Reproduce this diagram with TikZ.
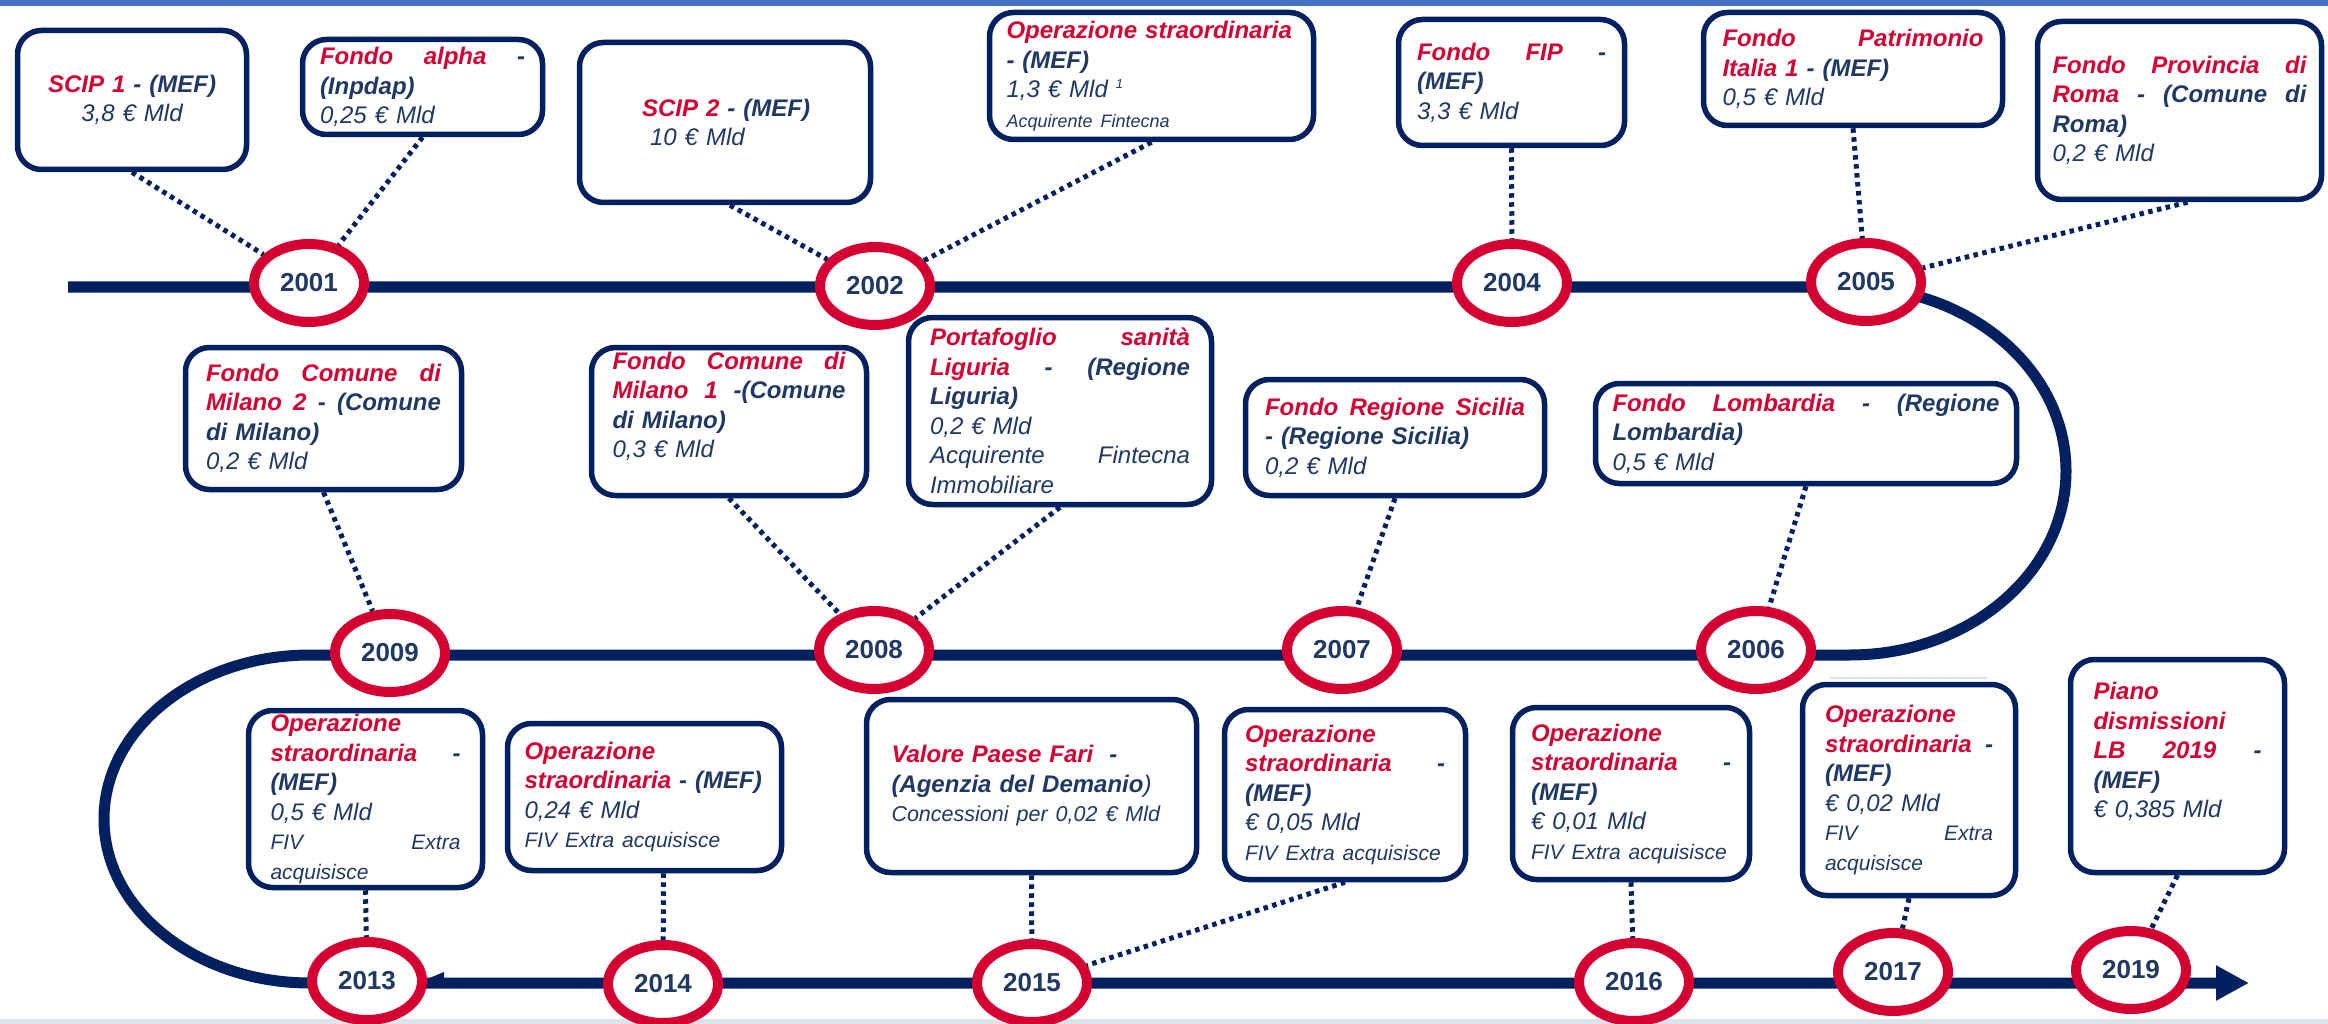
\documentclass[tikz,border=0pt]{standalone}
\usepackage{fontspec}
\setmainfont{Liberation Sans}
\usetikzlibrary{shapes.geometric,arrows.meta}
\definecolor{tred}{RGB}{213,0,50}
\definecolor{tnavy}{RGB}{0,32,96}
\definecolor{tblue}{RGB}{31,56,100}
\definecolor{tbar}{RGB}{68,114,196}
\definecolor{tgray}{RGB}{222,227,235}
\newcommand\redt[1]{\textcolor{tred}{\bfseries\itshape #1}}
\newcommand\bluet[1]{\textcolor{tblue}{\bfseries\itshape #1}}
\newcommand\jl[2]{\makebox[#1pt][s]{#2}}
\newcommand\smalltxt[1]{{\fontsize{21pt}{29.5pt}\selectfont #1}}
\begin{document}
\begin{tikzpicture}[x=1pt,y=-1pt]
\tikzset{
 tline/.style={draw=tnavy, line width=11pt},
 yearnode/.style={ellipse, draw=tred, line width=10pt, fill=white, minimum width=110pt, minimum height=78pt, inner sep=0pt, outer sep=5pt, text=tblue, font=\fontsize{26pt}{26pt}\selectfont\bfseries},
 infobox/.style={draw=tnavy, line width=5.5pt, rounded corners=24pt, fill=white, inner sep=0pt, align=left, text=tblue, font=\fontsize{24pt}{29.5pt}\selectfont\itshape},
 conn/.style={draw=tnavy, line width=5pt, dash pattern=on 4.5pt off 4.5pt}
}
\useasboundingbox (0,0) rectangle (2328,1024);
\fill[white] (0,0) rectangle (2328,1024);
\fill[tbar] (0,0) rectangle (2328,6);
\fill[tgray] (0,1019) rectangle (2328,1024);

% timeline
\coordinate (t0) at (68,287);
\coordinate (t1) at (1850,287);
\coordinate (t2) at (310,655);
\coordinate (t3) at (2249,983);
\draw[tline, -{Triangle[length=33pt,width=33pt]}] (t0) -- (t1)
  arc[start angle=-90, end angle=90, x radius=216, y radius=184] -- (t2)
  arc[start angle=270, end angle=90, x radius=206, y radius=164] -- (t3);
\draw[tgray, line width=2pt] (1830,678) -- (1987,678);
\fill[tnavy] (427,979) -- (444,972) -- (444,979) -- cycle;

% years
\node[yearnode] (y2001) at (309,283) {2001};
\node[yearnode] (y2002) at (875,286) {2002};
\node[yearnode] (y2004) at (1512,283) {2004};
\node[yearnode] (y2005) at (1866,282) {2005};
\node[yearnode] (y2009) at (390,653) {2009};
\node[yearnode] (y2008) at (874,650) {2008};
\node[yearnode] (y2007) at (1342,650) {2007};
\node[yearnode] (y2006) at (1756,650) {2006};
\node[yearnode] (y2013) at (367,981) {2013};
\node[yearnode] (y2014) at (663,984) {2014};
\node[yearnode] (y2015) at (1032,983) {2015};
\node[yearnode] (y2016) at (1634,982) {2016};
\node[yearnode] (y2017) at (1893,972) {2017};
\node[yearnode] (y2019) at (2131,970) {2019};

% boxes row 1
\node[infobox, minimum width=229pt, minimum height=139pt, text width=180pt, align=center] (scip1) at (132,100)
 {\redt{SCIP 1} \bluet{- (MEF)}\\3,8 € Mld};
\node[infobox, minimum width=240pt, minimum height=95pt, text width=205pt] (alpha) at (422.5,87)
 {\jl{205}{\redt{Fondo}\hfill\redt{alpha}\hfill\bluet{-}}\\\bluet{(Inpdap)}\\0,25 € Mld};
\node[infobox, minimum width=291pt, minimum height=160pt, text width=180pt] (scip2) at (725,122.5)
 {\hspace*{7pt}\redt{SCIP 2} \bluet{- (MEF)}\\\hspace*{15pt}10 € Mld};
\node[infobox, minimum width=324pt, minimum height=127pt, text width=290pt] (op02) at (1151.5,76)
 {\redt{Operazione straordinaria}\\\bluet{- (MEF)}\\1,3 € Mld \raisebox{9pt}{\fontsize{13pt}{13pt}\selectfont 1}\\{\fontsize{18pt}{29.5pt}\selectfont Acquirente Fintecna}};
\node[infobox, minimum width=226pt, minimum height=126pt, text width=189pt] (fip) at (1511.5,82.5)
 {\jl{189}{\redt{Fondo}\hfill\redt{FIP}\hfill\bluet{-}}\\\bluet{(MEF)}\\3,3 € Mld};
\node[infobox, minimum width=299pt, minimum height=113pt, text width=261pt] (patr) at (1853,69)
 {\jl{261}{\redt{Fondo}\hfill\redt{Patrimonio}}\\\redt{Italia 1} \bluet{- (MEF)}\\0,5 € Mld};
\node[infobox, minimum width=284pt, minimum height=178pt, text width=254pt] (prov) at (2179.5,110.5)
 {\jl{254}{\redt{Fondo}\hfill\redt{Provincia}\hfill\redt{di}}\\\jl{254}{\redt{Roma}\hfill\bluet{-}\hfill\bluet{(Comune}\hfill\bluet{di}}\\\bluet{Roma)}\\0,2 € Mld};

% boxes row 2
\node[infobox, minimum width=276pt, minimum height=142pt, text width=235pt] (mil2) at (323.5,418.5)
 {\jl{235}{\redt{Fondo}\hfill\redt{Comune}\hfill\redt{di}}\\\jl{235}{\redt{Milano}\hfill\redt{2}\hfill\bluet{-}\hfill\bluet{(Comune}}\\\bluet{di Milano)}\\0,2 € Mld};
\node[infobox, minimum width=275pt, minimum height=148pt, text width=233pt] (mil1) at (729,421.5)
 {\jl{233}{\redt{Fondo}\hfill\redt{Comune}\hfill\redt{di}}\\\jl{233}{\redt{Milano}\hfill\redt{1}\hfill\bluet{-(Comune}}\\\bluet{di Milano)}\\0,3 € Mld\rule[-33pt]{0pt}{0pt}};
\node[infobox, minimum width=303pt, minimum height=187pt, text width=260pt] (port) at (1060,411)
 {\jl{260}{\redt{Portafoglio}\hfill\redt{sanità}}\\\jl{260}{\redt{Liguria}\hfill\bluet{-}\hfill\bluet{(Regione}}\\\bluet{Liguria)}\\0,2 € Mld\\\jl{260}{Acquirente\hfill Fintecna}\\Immobiliare};
\node[infobox, minimum width=299pt, minimum height=116pt, text width=260pt] (sic) at (1395,437.5)
 {\jl{260}{\redt{Fondo}\hfill\redt{Regione}\hfill\redt{Sicilia}}\\\bluet{- (Regione Sicilia)}\\0,2 € Mld};
\node[infobox, minimum width=421pt, minimum height=100pt, text width=387pt] (lomb) at (1806,433.5)
 {\jl{387}{\redt{Fondo}\hfill\redt{Lombardia}\hfill\bluet{-}\hfill\bluet{(Regione}}\\\bluet{Lombardia)}\\0,5 € Mld};

% boxes row 3
\node[infobox, minimum width=234pt, minimum height=177pt, text width=190pt] (op13) at (365.5,799)
 {\redt{Operazione}\\\jl{190}{\redt{straordinaria}\hfill\bluet{-}}\\\bluet{(MEF)}\\0,5 € Mld\\\smalltxt{\jl{190}{FIV\hfill Extra}}\\\smalltxt{acquisisce}};
\node[infobox, minimum width=274pt, minimum height=147pt, text width=240pt] (op14) at (644.5,797)
 {\redt{Operazione}\\\redt{straordinaria} \bluet{- (MEF)}\\0,24 € Mld\\\smalltxt{FIV Extra acquisisce}};
\node[infobox, minimum width=330pt, minimum height=173pt, text width=280pt] (fari) at (1031.5,786)
 {\redt{Valore Paese Fari}\ \ \bluet{-}\\\bluet{(Agenzia del Demanio})\\{\fontsize{21.5pt}{29.5pt}\selectfont Concessioni per 0,02 € Mld}};
\node[infobox, minimum width=241pt, minimum height=170pt, text width=200pt] (op15) at (1345,794.5)
 {\redt{Operazione}\\\jl{200}{\redt{straordinaria}\hfill\bluet{-}}\\\bluet{(MEF)}\\€ 0,05 Mld\\\smalltxt{FIV Extra acquisisce}};
\node[infobox, minimum width=237pt, minimum height=172pt, text width=200pt] (op16) at (1631,793.5)
 {\redt{Operazione}\\\jl{200}{\redt{straordinaria}\hfill\bluet{-}}\\\bluet{(MEF)}\\€ 0,01 Mld\\\smalltxt{FIV Extra acquisisce}};
\node[infobox, minimum width=213pt, minimum height=211pt, text width=168pt] (op17) at (1909,790)
 {\redt{Operazione}\\\jl{168}{\redt{straordinaria}\hfill\bluet{-}}\\\bluet{(MEF)}\\€ 0,02 Mld\\\smalltxt{\jl{168}{FIV\hfill Extra}}\\\smalltxt{acquisisce}};
\node[infobox, minimum width=214pt, minimum height=213pt, text width=168pt] (piano) at (2177.5,766)
 {\redt{Piano}\\\redt{dismissioni}\\\jl{168}{\redt{LB}\hfill\redt{2019}\hfill\bluet{-}}\\\bluet{(MEF)}\\€ 0,385 Mld\rule[-32pt]{0pt}{0pt}};

% connectors
\draw[conn] (scip1.south) -- (y2001);
\draw[conn] (alpha.south) -- (y2001);
\draw[conn] ([xshift=5pt]scip2.south) -- (y2002);
\draw[conn] (op02.south) -- (y2002);
\draw[conn] (fip.south) -- (y2004);
\draw[conn] (patr.south) -- (y2005);
\draw[conn] ([xshift=8pt]prov.south) -- (y2005);
\draw[conn] (mil2.south) -- (y2009);
\draw[conn] (mil1.south) -- (y2008);
\draw[conn] (port.south) -- (y2008);
\draw[conn] (sic.south) -- (y2007);
\draw[conn] (lomb.south) -- (y2006);
\draw[conn] (op13.south) -- (y2013);
\draw[conn] ([xshift=19pt]op14.south) -- (y2014);
\draw[conn] (fari.south) -- (y2015);
\draw[conn] (op15.south) -- (y2015);
\draw[conn] (op16.south) -- (y2016);
\draw[conn] (op17.south) -- (y2017);
\draw[conn] (piano.south) -- (y2019);
\end{tikzpicture}
\end{document}
